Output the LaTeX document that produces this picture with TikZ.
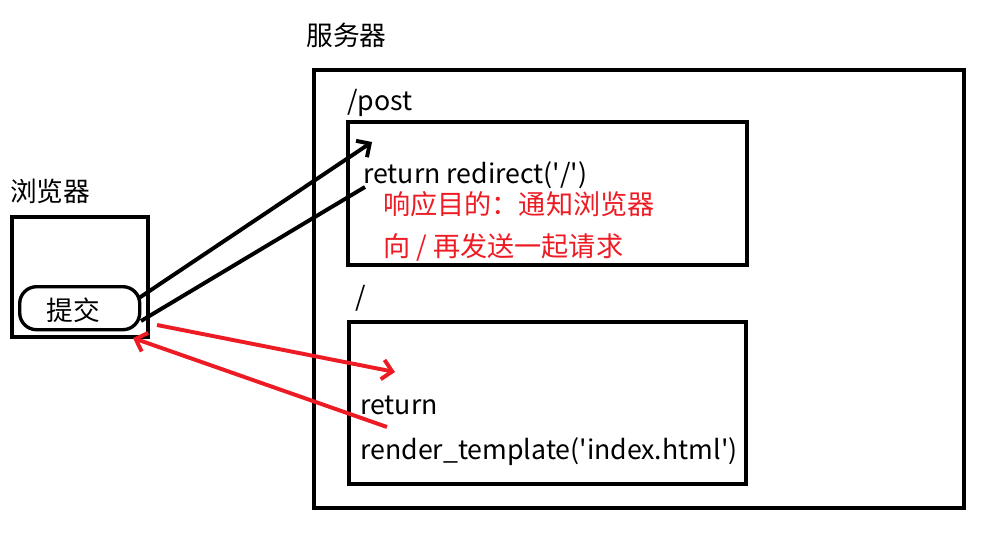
\documentclass[tikz,border=0pt]{standalone}
\usepackage{fontspec}
\newfontfamily\cjk{Noto Sans CJK SC}
\usetikzlibrary{arrows.meta}
\definecolor{paintred}{RGB}{237,28,36}

\tikzset{
  box/.style={draw, line width=2.8pt, anchor=north west, inner sep=0pt},
  lbl/.style={anchor=base west, inner sep=0pt, font=\cjk\fontsize{19pt}{21pt}\selectfont},
  note/.style={lbl, text=paintred, font=\cjk\fontsize{19.3pt}{21pt}\selectfont},
  arr/.style={line width=2.8pt, -{Straight Barb[length=7pt,width=14pt]}},
  redarr/.style={arr, draw=paintred}
}

\begin{document}
\begin{tikzpicture}[x=0.025cm, y=-0.025cm]
  \useasboundingbox (0,0) rectangle (1003,559);

  % browser side
  \node[lbl] (browsertxt) at (10,201) {浏览器};
  \node[box, minimum width=3.4cm, minimum height=3cm] (browser) at (10,215) {};
  \node[box, line width=2.4pt, rounded corners=12pt,
        minimum width=3cm, minimum height=1.075cm] (submit) at (18,285) {};
  \node[lbl] (submittxt) at (46,320) {提交};

  % server side
  \node[lbl] (servertxt) at (306,45) {服务器};
  \node[box, minimum width=16.25cm, minimum height=10.95cm] (server) at (312,68) {};

  \node[lbl] (posttxt) at (347,110) {/post};
  \node[box, minimum width=9.975cm, minimum height=3.575cm] (post) at (346,120) {};
  \node[lbl] (redirect) at (363,183) {return redirect('/')};
  \node[note] (purpose) at (383,214) {响应目的：通知浏览器};
  \node[note] (again) at (383,256) {向 / 再发送一起请求};

  \node[lbl] (roottxt) at (355,306) {/};
  \node[box, minimum width=9.925cm, minimum height=4.05cm] (root) at (347,320) {};
  \node[lbl] (ret) at (360,414) {return};
  \node[lbl] (render) at (360,459) {render\_template('index.html')};

  % arrow ends
  \coordinate (subout) at (139,298);
  \coordinate (postin) at (372,142);
  \coordinate (postout) at (365,187);
  \coordinate (subin) at (141,321);
  \coordinate (againout) at (157,325);
  \coordinate (rootin) at (395,372);
  \coordinate (rootout) at (387,427);
  \coordinate (browserin) at (133,338);

  \draw[arr] (subout) -- (postin);
  \draw[line width=2.8pt] (postout) -- (subin);
  \draw[redarr] (againout) -- (rootin);
  \draw[redarr] (rootout) -- (browserin);
\end{tikzpicture}
\end{document}
